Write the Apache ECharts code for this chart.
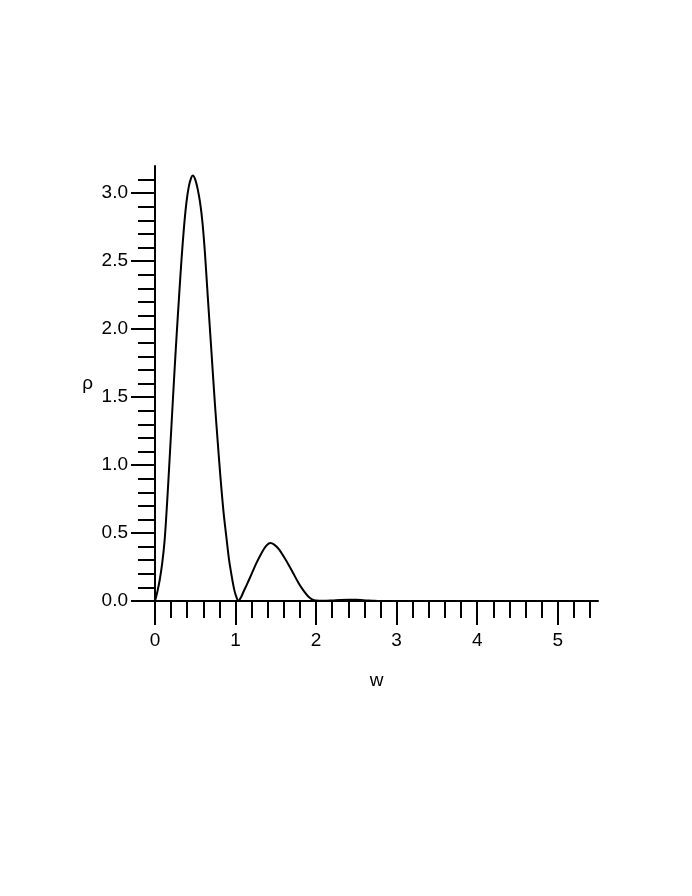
<!DOCTYPE html>
<html>
<head>
<meta charset="utf-8">
<script src="https://cdn.jsdelivr.net/npm/echarts@6/dist/echarts.min.js"></script>
<style>
  html, body { margin: 0; padding: 0; background: #fff; }
  #chart { width: 692px; height: 896px; }
</style>
</head>
<body>
<div id="chart"></div>
<script>
// values
const wValues = [
  0, 0.03, 0.06, 0.09, 0.12, 0.15, 0.18, 0.21, 0.24, 0.27, 0.30, 0.33, 0.36, 0.39, 0.42, 0.45, 0.47,
  0.50, 0.53, 0.56, 0.59, 0.62, 0.654, 0.70, 0.745, 0.78, 0.81, 0.85, 0.89, 0.92, 0.953, 0.985, 1.01, 1.035,
  1.07, 1.10, 1.14, 1.20, 1.26, 1.32, 1.38, 1.43, 1.48, 1.54, 1.60, 1.66, 1.72, 1.78, 1.84, 1.90, 1.95, 2.0,
  2.1, 2.2, 2.3, 2.4, 2.5, 2.6, 2.7, 2.8, 3.0, 3.5, 4.0, 4.5, 5.0, 5.5
]
const rhoValues = [
  0, 0.07, 0.16, 0.28, 0.45, 0.72, 1.03, 1.35, 1.67, 1.97, 2.25, 2.52, 2.75, 2.93, 3.05, 3.115, 3.13,
  3.10, 3.03, 2.93, 2.78, 2.56, 2.25, 1.84, 1.44, 1.16, 0.93, 0.66, 0.45, 0.30, 0.18, 0.08, 0.03, 0,
  0.03, 0.07, 0.12, 0.20, 0.28, 0.35, 0.405, 0.426, 0.415, 0.38, 0.325, 0.265, 0.20, 0.135, 0.08, 0.035, 0.012, 0.003,
  0.001, 0.004, 0.008, 0.01, 0.009, 0.005, 0.002, 0, 0, 0, 0, 0, 0, 0
]

const xMajorTicks = [0, 1, 2, 3, 4, 5]
const xMinorTicks = [0.2, 0.4, 0.6, 0.8, 1.2, 1.4, 1.6, 1.8, 2.2, 2.4, 2.6, 2.8, 3.2, 3.4, 3.6, 3.8, 4.2, 4.4, 4.6, 4.8, 5.2, 5.4]
const yMajorTicks = [0, 0.5, 1.0, 1.5, 2.0, 2.5, 3.0]
const yMinorTicks = [0.1, 0.2, 0.3, 0.4, 0.6, 0.7, 0.8, 0.9, 1.1, 1.2, 1.3, 1.4, 1.6, 1.7, 1.8, 1.9,
  2.1, 2.2, 2.3, 2.4, 2.6, 2.7, 2.8, 2.9, 3.1]

const font = 'Liberation Sans'
const black = '#000'

const myChart = echarts.init(document.getElementById('chart'))
const option = {
  animation: false,
  grid: {
    left: 155,
    right: 94,
    top: 166,
    bottom: 295
  },
  xAxis: [{
    type: 'value',
    position: 'bottom',
    min: 0,
    max: 5.5,
    name: 'w',
    nameLocation: 'middle',
    nameGap: 70,
    nameTextStyle: { color: black, fontFamily: font, fontSize: 19 },
    splitLine: { show: false },
    axisLine: { onZero: false, lineStyle: { color: black, width: 2 } },
    axisTick: {
      customValues: xMajorTicks,
      length: 24,
      lineStyle: { color: black, width: 2 }
    },
    axisLabel: {
      customValues: xMajorTicks,
      margin: 30,
      color: black,
      fontFamily: font,
      fontSize: 19
    }
  }, {
    type: 'value',
    position: 'bottom',
    min: 0,
    max: 5.5,
    splitLine: { show: false },
    axisLine: { show: false, onZero: false },
    axisTick: {
      customValues: xMinorTicks,
      length: 17,
      lineStyle: { color: black, width: 2 }
    },
    axisLabel: { show: false }
  }],
  yAxis: [{
    type: 'value',
    position: 'left',
    min: 0,
    max: 3.2,
    name: 'ρ',
    nameLocation: 'middle',
    nameRotate: 0,
    nameGap: 62,
    nameTextStyle: { color: black, fontFamily: font, fontSize: 19 },
    splitLine: { show: false },
    axisLine: { show: true, onZero: false, lineStyle: { color: black, width: 2 } },
    axisTick: {
      show: true,
      customValues: yMajorTicks,
      length: 24,
      lineStyle: { color: black, width: 2 }
    },
    axisLabel: {
      customValues: yMajorTicks,
      margin: 27,
      color: black,
      fontFamily: font,
      fontSize: 19,
      formatter: v => v.toFixed(1)
    }
  }, {
    type: 'value',
    position: 'left',
    min: 0,
    max: 3.2,
    splitLine: { show: false },
    axisLine: { show: false, onZero: false },
    axisTick: {
      show: true,
      customValues: yMinorTicks,
      length: 17,
      lineStyle: { color: black, width: 2 }
    },
    axisLabel: { show: false }
  }],
  series: [{
    type: 'line',
    data: wValues.map((w, i) => [w, rhoValues[i]]),
    showSymbol: false,
    smooth: 0.3,
    lineStyle: { color: black, width: 2 }
  }]
}
myChart.setOption(option)
</script>
</body>
</html>
